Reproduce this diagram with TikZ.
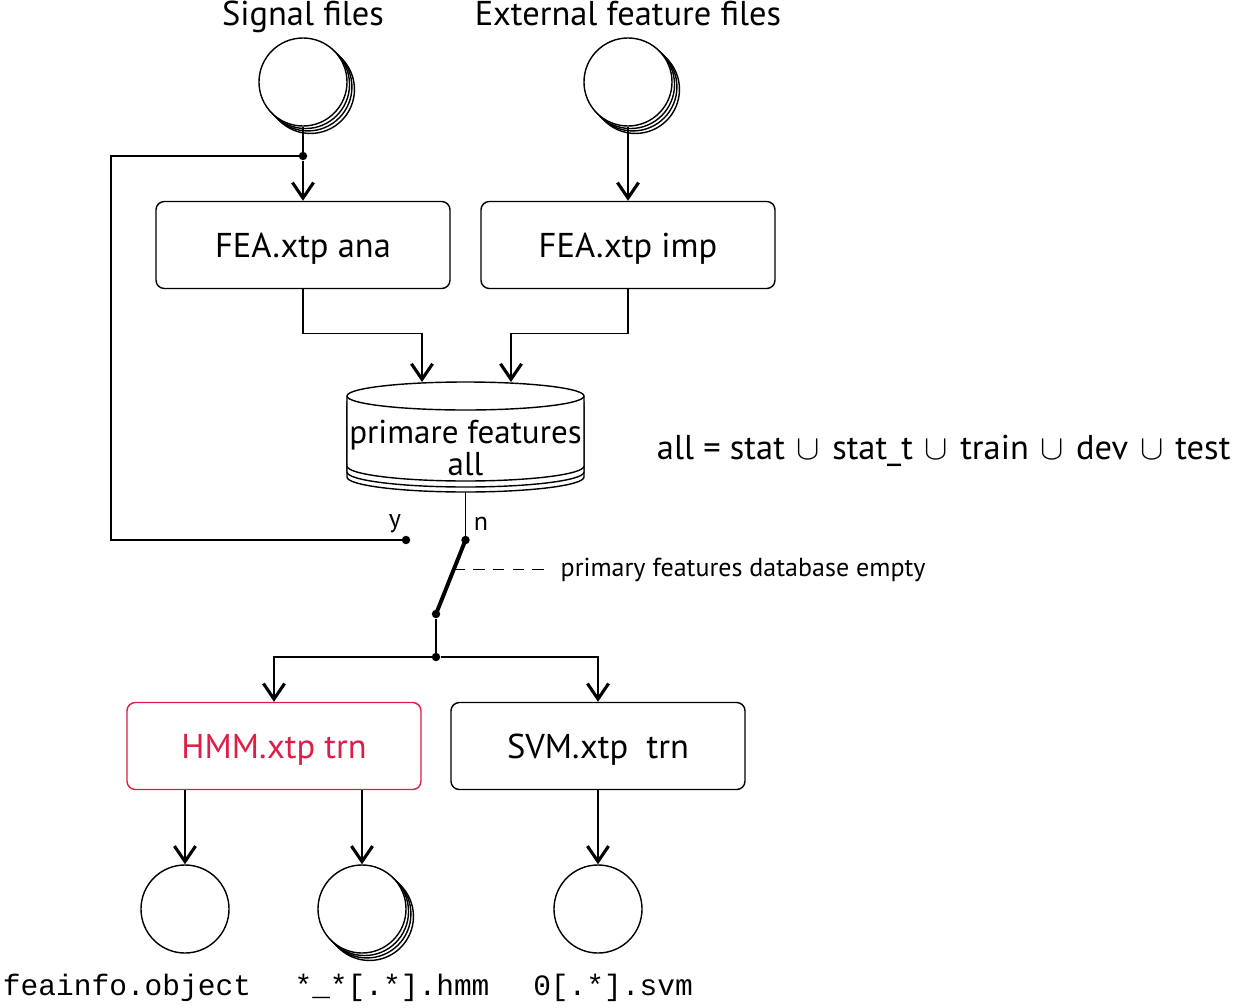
\documentclass[tikz,border=0pt]{standalone}
\usepackage{fontspec}
\setmainfont{PT Sans}
\setmonofont{Liberation Mono}
\usetikzlibrary{arrows.meta,positioning,calc,shadows}
\definecolor{hmmred}{RGB}{220,30,72}

\newcommand{\setcup}{\ \hspace{2pt}$\cup$\hspace{2pt}\ }

\tikzset{
  line/.style={line width=1pt},
  arr/.style={line, -{Straight Barb[length=11pt,width=15pt,line width=2.2pt]}},
  big/.style={font=\fontsize{24.5}{20.6}\selectfont},
  note/.style={font=\fontsize{18.5}{20}\selectfont},
  code/.style={font=\ttfamily\fontsize{21}{23}\selectfont},
  title/.style={big, text depth=5pt},
  stepbox/.style={draw, line, rounded corners=6pt, fill=white,
    minimum width=7.35cm, minimum height=2.175cm, big, text depth=0pt},
  store/.style={draw, circle, line, fill=white, minimum size=2.2cm},
  stack/.style={store,
    copy shadow={shadow xshift=5.3pt, shadow yshift=-5.3pt},
    copy shadow={shadow xshift=3.5pt, shadow yshift=-3.5pt},
    copy shadow={shadow xshift=1.8pt, shadow yshift=-1.8pt}},
  junc/.style={circle, fill=black, inner sep=0pt, minimum size=6pt},
}

\begin{document}
\begin{tikzpicture}[x=0.025cm, y=-0.025cm]
  \useasboundingbox (0,0) rectangle (1237,1007);

  % inputs
  \node[stack] (sig) at (303,82) {};
  \node[stack] (ext) at (628,82) {};
  \node[title, above=0pt of sig] {Signal files};
  \node[title, above=0pt of ext] {External feature files};

  % feature extraction
  \node[stepbox] (ana) at (303,245) {FEA.xtp ana};
  \node[stepbox] (imp) at (628,245) {FEA.xtp imp};

  \node[junc] (sigdot) at (303,156) {};
  \coordinate (loop) at (111,156);
  \draw[line] (sig.south) -- (sigdot);
  \draw[arr] (sigdot) -- (ana.north);
  \draw[arr] (ext.south) -- (imp.north);

  % database
  \begin{scope}[line]
    \foreach \k in {11,6}{
      \filldraw[fill=white] (347,396+\k) -- (347,466+\k)
        arc[start angle=180, end angle=0, x radius=118.5, y radius=15]
        -- (584,396+\k) -- cycle;
    }
    \filldraw[fill=white] (347,396) -- (347,466)
      arc[start angle=180, end angle=0, x radius=118.5, y radius=15]
      -- (584,396)
      arc[start angle=0, end angle=-180, x radius=118.5, y radius=14] -- cycle;
    \draw (347,396) arc[start angle=180, end angle=0, x radius=118.5, y radius=14];
  \end{scope}
  \node[font=\fontsize{23.5}{20.6}\selectfont, align=center] (db) at (465.5,448)
    {primare features\\all};
  \coordinate (dbin1) at (422,382);
  \coordinate (dbin2) at (511,382);
  \coordinate (dbout) at (465.5,492);

  \draw[arr] (ana.south) -- ++(0,44) -| (dbin1);
  \draw[arr] (imp.south) -- ++(0,44) -| (dbin2);

  \node[big, anchor=west] (sets) at (652,451)
    {all = stat\setcup stat\_t\setcup train\setcup dev\setcup test};

  % switch
  \node[junc] (ydot) at (406,540) {};
  \node[junc] (ndot) at (465.5,540) {};
  \node[junc] (swdot) at (436,614) {};
  \node[junc] (split) at (436,657) {};
  \node[note] at (395,524) {y};
  \node[note] at (481,524) {n};

  \draw[line] (sigdot) -- (loop) |- (ydot);
  \draw[line] (dbout) -- (ndot);
  \draw[line width=2.8pt] (ndot.center) -- (swdot.center);
  \coordinate (swmid) at ($(ndot)!0.4!(swdot)$);
  \draw[line, dash pattern=on 8pt off 6pt] (swmid) -- ++(96,0)
    node[note, right=4pt] (empty) {primary features database empty};
  \draw[line] (swdot) -- (split);

  % training
  \node[stepbox, draw=hmmred, text=hmmred] (hmm) at (274,746) {HMM.xtp trn};
  \node[stepbox] (svm) at (598,746) {SVM.xtp\ \ trn};
  \draw[arr] (split) -| (hmm.north);
  \draw[arr] (split) -| (svm.north);

  % outputs
  \node[store] (info) at (185,909) {};
  \node[stack] (hmmfiles) at (362,909) {};
  \node[store] (svmfile) at (598,909) {};
  \draw[arr] (hmm.south -| info.north) -- (info.north);
  \draw[arr] (hmm.south -| hmmfiles.north) -- (hmmfiles.north);
  \draw[arr] (svm.south) -- (svmfile.north);

  \node[code] at (127,988) {feainfo.object};
  \node[code] at (392,988) {*\_*[.*].hmm};
  \node[code] at (613,988) {0[.*].svm};
\end{tikzpicture}
\end{document}
